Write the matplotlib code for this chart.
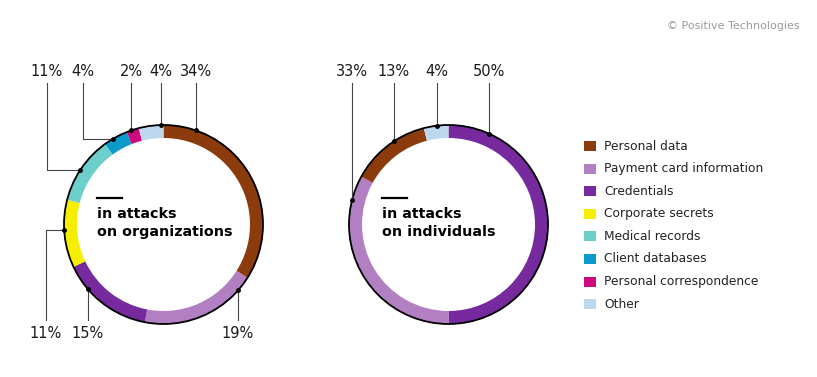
import numpy as np
import matplotlib
matplotlib.use("Agg")
import matplotlib.pyplot as plt
from matplotlib.patches import Circle, Rectangle

W, H = 817, 377

categories = ["Personal data", "Payment card information", "Credentials",
              "Corporate secrets", "Medical records", "Client databases",
              "Personal correspondence", "Other"]
colors = ["#8c3b0c", "#b27fc2", "#772a9e", "#f6ee00", "#6ccfcb",
          "#0c9ac8", "#cc0a7c", "#bcd7ee"]

# share of each category, clockwise from 12 o'clock
org_cats = ["Personal data", "Payment card information", "Credentials",
            "Corporate secrets", "Medical records", "Client databases",
            "Personal correspondence", "Other"]
org_vals = [34, 19, 15, 11, 11, 4, 2, 4]

ind_cats = ["Credentials", "Payment card information", "Personal data", "Other"]
ind_vals = [50, 33, 13, 4]

color_of = dict(zip(categories, colors))

# leader layout (pixel coords, y from top): (segment index, line x, elbow y, side)
org_leaders = [(4, 47, 170, "top"), (5, 83, 139, "top"), (6, 131.5, None, "top"),
               (7, 161, None, "top"), (0, 196, None, "top"),
               (3, 46, 230, "bottom"), (2, 88, None, "bottom"), (1, 238, None, "bottom")]
ind_leaders = [(1, 352, None, "top"), (2, 394, None, "top"),
               (3, 437, None, "top"), (0, 489, None, "top")]

R, RING = 99.5, 13


def Y(y):
    return H - y


fig = plt.figure(figsize=(W / 100, H / 100), dpi=100)
ax = fig.add_axes([0, 0, 1, 1])


def donut(cx, cy, cats, vals, leaders, title):
    ax.pie(vals, colors=[color_of[c] for c in cats], center=(cx, Y(cy)), radius=R,
           startangle=90, counterclock=False,
           wedgeprops=dict(width=RING, edgecolor="none", linewidth=0))
    ax.add_patch(Circle((cx, Y(cy)), R, fill=False, ec="black", lw=1.3, zorder=3))
    for idx, lx, ey, side in leaders:
        if ey is None:
            dy = np.sqrt(R ** 2 - (lx - cx) ** 2)
            px, py = lx, (cy - dy if side == "top" else cy + dy)
            xs, ys = [lx, px], [83 if side == "top" else 320, py]
        else:
            dx = np.sqrt(R ** 2 - (ey - cy) ** 2)
            px, py = cx - dx, ey
            xs, ys = [lx, lx, px], [83 if side == "top" else 320, ey, ey]
        ax.plot(xs, [Y(v) for v in ys], color="#444444", lw=0.8, zorder=4)
        ax.plot(px, Y(py), "o", color="black", ms=2.5, zorder=5)
        ty = 72 if side == "top" else 333
        ax.text(lx, Y(ty), f"{vals[idx]}%", ha="center", va="center",
                fontsize=10.5, color="#1a1a1a")
    tx = cx - 66
    ax.plot([tx, tx + 25], [Y(198), Y(198)], color="black", lw=1.6)
    ax.text(tx, Y(223), title, ha="left", va="center", fontsize=10.3,
            fontweight="bold", color="black", linespacing=1.4)


donut(163.5, 224.5, org_cats, org_vals, org_leaders, "in attacks\non organizations")
donut(448.5, 224.5, ind_cats, ind_vals, ind_leaders, "in attacks\non individuals")

# legend
for i, (name, col) in enumerate(zip(categories, colors)):
    yc = 146 + i * 22.6
    ax.add_patch(Rectangle((584, Y(yc) - 5), 12, 10, color=col, lw=0))
    ax.text(604, Y(yc), name, ha="left", va="center", fontsize=8.8, color="#222222")

ax.text(800, Y(26), "© Positive Technologies", ha="right", va="center",
        fontsize=8, color="#9a9a9a")

ax.set_xlim(0, W)
ax.set_ylim(0, H)
ax.set_aspect("auto")
ax.axis("off")
fig.savefig("out.png", dpi=100)
